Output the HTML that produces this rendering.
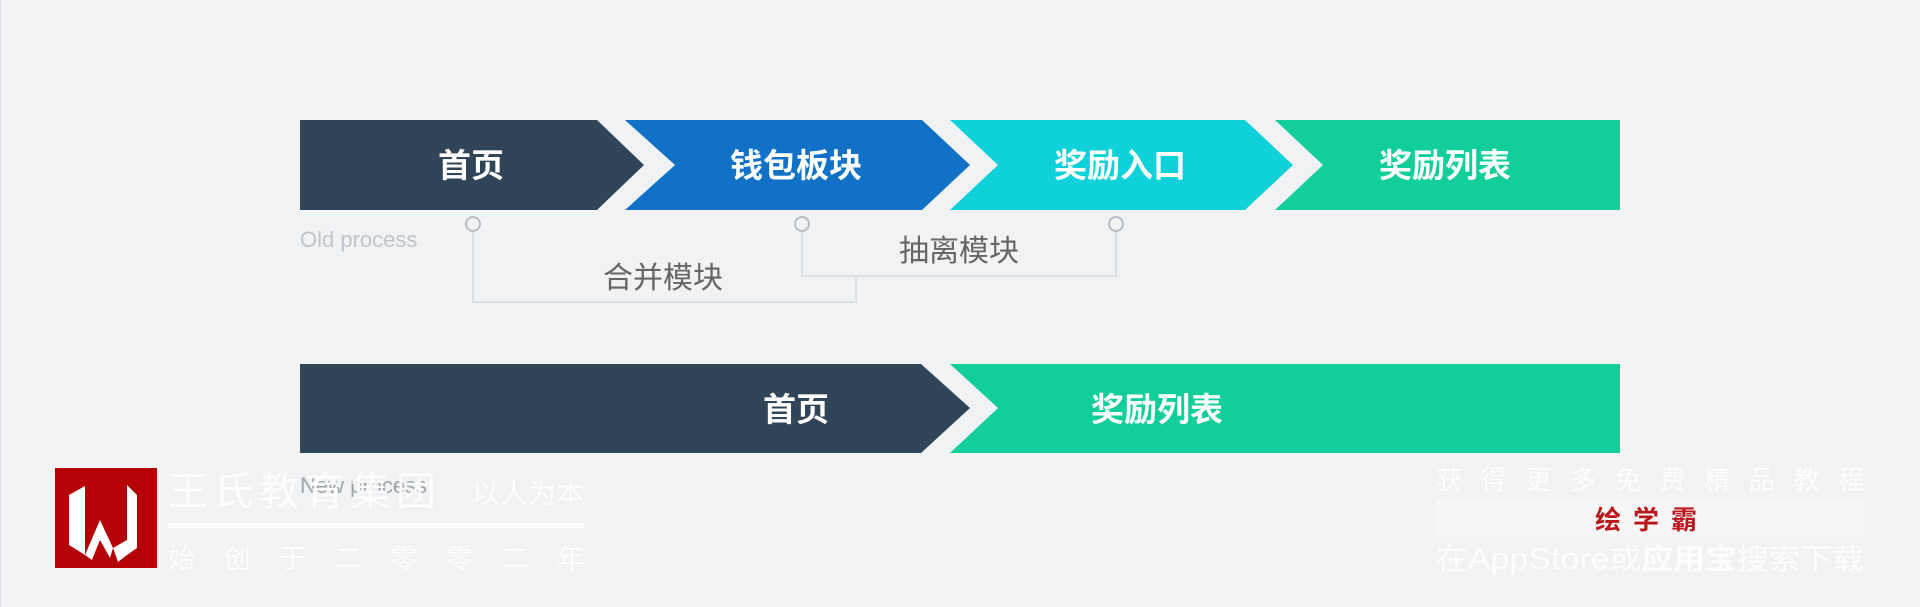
<!DOCTYPE html>
<html><head><meta charset="utf-8"><style>
html,body{margin:0;padding:0;background:#f1f2f4;}
svg{display:block}
text{font-family:"Liberation Sans","Noto Sans CJK SC",sans-serif}
</style></head><body>
<svg width="1920" height="607" viewBox="0 0 1920 607" xmlns="http://www.w3.org/2000/svg">
<rect width="1920" height="607" fill="#f1f2f4"/>
<line x1="0.5" y1="0" x2="0.5" y2="607" stroke="#e2e4e8"/>
<polygon points="300,120 597,120 644,165 597,210 300,210" fill="#314559"/>
<polygon points="625,120 922,120 970,165 922,210 625,210 675,165" fill="#1071c7"/>
<polygon points="950,120 1245,120 1293,165 1245,210 950,210 998,165" fill="#0fd1d9"/>
<polygon points="1275,120 1620,120 1620,210 1275,210 1323,165" fill="#12cf9a"/>
<g font-size="33" font-weight="bold" fill="#fff" text-anchor="middle">
<text x="471" y="177">首页</text>
<text x="796" y="177">钱包板块</text>
<text x="1120" y="177">奖励入口</text>
<text x="1445" y="177">奖励列表</text>
</g>
<text x="300" y="247" font-size="22" fill="#c0c4cc">Old process</text>
<g fill="none" stroke="#dcdfe4" stroke-width="2">
<polyline points="473,231 473,302 856,302 856,276"/>
<polyline points="802,231 802,276 1116,276 1116,231"/>
</g>
<g fill="#f1f2f4" stroke="#b8bcc4" stroke-width="2">
<circle cx="473" cy="224" r="7"/>
<circle cx="802" cy="224" r="7"/>
<circle cx="1116" cy="224" r="7"/>
</g>
<g font-size="30" fill="#666" text-anchor="middle">
<text x="663" y="288">合并模块</text>
<text x="959" y="261">抽离模块</text>
</g>
<polygon points="300,364 921,364 970,408 921,453 300,453" fill="#314559"/>
<polygon points="950,364 1620,364 1620,453 950,453 998,408" fill="#12cf9a"/>
<g font-size="33" font-weight="bold" fill="#fff" text-anchor="middle">
<text x="796" y="421">首页</text>
<text x="1157" y="421">奖励列表</text>
</g>
<text x="300" y="493" font-size="22" fill="#a0a4ab">New process</text>
<rect x="55" y="468" width="102" height="100" fill="#b50005"/>
<polygon points="69,495 85,486 85,555 69,545" fill="#fff"/>
<polygon points="85,555 100,520 113,548 110,558 100,540 92,560" fill="#fff"/>
<polygon points="127,485 137,495 137,548 127,555" fill="#fff"/>
<polygon points="113,548 127,540 127,555 118,562" fill="#fff"/>
<g fill="#fff" opacity="0.9">
<text x="168" y="505" font-size="40" textLength="268" lengthAdjust="spacing">王氏教育集团</text>
<text x="472" y="503" font-size="27" textLength="112" lengthAdjust="spacing">以人为本</text>
<rect x="168" y="523" width="416" height="5"/>
<text x="168" y="568" font-size="27" textLength="416" lengthAdjust="spacing">始创于二零零二年</text>
</g>
<g fill="#fff" opacity="0.9">
<text x="1436" y="489" font-size="26" textLength="428" lengthAdjust="spacing">获得更多免费精品教程</text>
<rect x="1436" y="500" width="428" height="37" fill="#f7f7f7"/>
<text x="1652" y="529" font-size="26" font-weight="bold" fill="#b50005" letter-spacing="12" text-anchor="middle">绘学霸</text>
<text x="1436" y="569" font-size="29" textLength="428" lengthAdjust="spacingAndGlyphs">在<tspan font-size="31">AppStore</tspan>或<tspan font-weight="bold">应用宝</tspan>搜索下载</text>
</g>
</svg>
</body></html>
